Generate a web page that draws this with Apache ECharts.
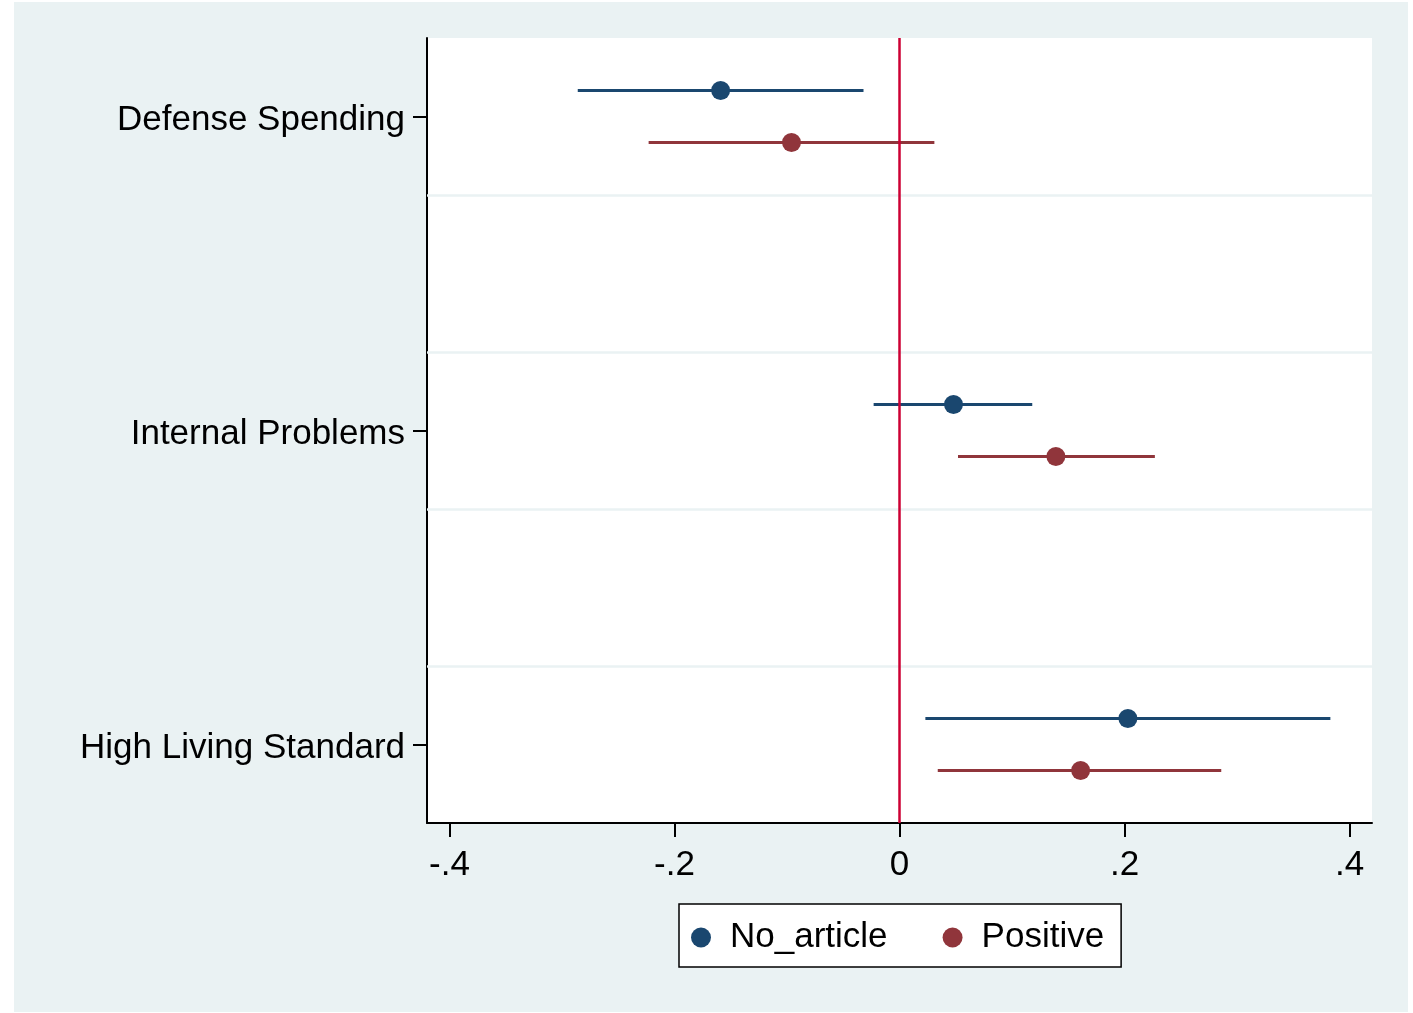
<!DOCTYPE html>
<html>
<head>
<meta charset="utf-8">
<script src="https://cdn.jsdelivr.net/npm/echarts@6/dist/echarts.min.js"></script>
<style>
  html, body { margin: 0; padding: 0; background: #ffffff; }
  #bg { position: absolute; left: 14px; top: 2px; width: 1394px; height: 1010px; background: #EAF2F3; }
  #main { position: absolute; left: 0; top: 0; width: 1413px; height: 1013px; }
</style>
</head>
<body>
<div id="bg"></div>
<div id="main"></div>
<script>
const categories = ['Defense Spending', 'Internal Problems', 'High Living Standard'];
const seriesNames = ['No_article', 'Positive'];
const noArticleEst = [-0.159, 0.048, 0.203];
const noArticleLo  = [-0.286, -0.023, 0.023];
const noArticleHi  = [-0.032, 0.118, 0.383];
const positiveEst  = [-0.096, 0.139, 0.161];
const positiveLo   = [-0.223, 0.052, 0.034];
const positiveHi   = [0.031, 0.227, 0.286];
const xTicks = [-0.4, -0.2, 0, 0.2, 0.4];
const xTickLabels = ['-.4', '-.2', '0', '.2', '.4'];
const refLineX = 0;

const FONT = "'Liberation Sans', Arial, Helvetica, sans-serif";
const NAVY = '#1A476F';
const MAROON = '#90353B';
const OFFSET = 0.083;
const yPos = categories.map((c, i) => i + 1);
const gridYs = [];
for (let i = 0; i < categories.length - 1; i++) {
  gridYs.push(yPos[i] + 0.25, yPos[i] + 0.75);
}

function pointData(est, sign) {
  return est.map((v, i) => [v, yPos[i] + sign * OFFSET]);
}
function barData(lo, hi, sign) {
  return lo.map((v, i) => [v, hi[i], yPos[i] + sign * OFFSET]);
}
function barSeries(name, lo, hi, sign, color) {
  return {
    name: name + ' CI',
    type: 'custom',
    z: 3,
    silent: true,
    data: barData(lo, hi, sign),
    encode: { x: [0, 1], y: 2 },
    renderItem: function (params, api) {
      const p1 = api.coord([api.value(0), api.value(2)]);
      const p2 = api.coord([api.value(1), api.value(2)]);
      return {
        type: 'line',
        shape: { x1: p1[0], y1: p1[1], x2: p2[0], y2: p2[1] },
        style: { stroke: color, lineWidth: 3 }
      };
    }
  };
}

const chart = echarts.init(document.getElementById('main'), null, { renderer: 'canvas' });
chart.setOption({
  backgroundColor: 'transparent',
  animation: false,
  textStyle: { fontFamily: FONT },
  grid: {
    left: 427, right: 41, top: 38, bottom: 190,
    show: true, backgroundColor: '#ffffff', borderWidth: 0
  },
  legend: {
    data: seriesNames,
    left: 679, top: 904,
    orient: 'horizontal',
    backgroundColor: '#ffffff',
    borderColor: '#000000',
    borderWidth: 1.5,
    borderRadius: 0,
    padding: [16, 17, 12, 12],
    itemWidth: 20, itemHeight: 20,
    itemGap: 55,
    icon: 'circle',
    textStyle: { fontFamily: FONT, fontSize: 35, color: '#000', padding: [0, 0, 0, 14] }
  },
  xAxis: {
    type: 'value',
    min: -0.42, max: 0.42,
    axisLine: { show: true, onZero: false, lineStyle: { color: '#000', width: 2 } },
    axisTick: { show: true, length: 14, customValues: xTicks, lineStyle: { color: '#000', width: 2 } },
    axisLabel: {
      customValues: xTicks,
      margin: 25,
      fontFamily: FONT, fontSize: 35, color: '#000',
      formatter: function (v) {
        const i = xTicks.findIndex(t => Math.abs(t - v) < 1e-9);
        return i >= 0 ? xTickLabels[i] : '';
      }
    },
    splitLine: { show: false }
  },
  yAxis: {
    type: 'value',
    min: 0.75, max: 3.25,
    inverse: true,
    axisLine: { show: true, onZero: false, lineStyle: { color: '#000', width: 2 } },
    axisTick: { show: true, length: 14, customValues: yPos, lineStyle: { color: '#000', width: 2 } },
    axisLabel: {
      customValues: yPos,
      margin: 22,
      fontFamily: FONT, fontSize: 35, color: '#000',
      rich: { c: { fontFamily: FONT, fontSize: 35, color: '#000', padding: [7, 0, 0, 0] } },
      formatter: function (v) {
        const i = yPos.findIndex(t => Math.abs(t - v) < 1e-9);
        return i >= 0 ? '{c|' + categories[i] + '}' : '';
      }
    },
    splitLine: { show: false }
  },
  series: [
    {
      name: 'guides',
      type: 'line',
      data: [],
      z: 1,
      silent: true,
      markLine: {
        silent: true,
        symbol: ['none', 'none'],
        label: { show: false },
        animation: false,
        data: gridYs.map(y => ({ yAxis: y, lineStyle: { color: '#EAF2F3', width: 2.5, type: 'solid' } }))
          .concat([{ xAxis: refLineX, lineStyle: { color: '#CC0033', width: 2.5, type: 'solid' } }])
      }
    },
    barSeries(seriesNames[0], noArticleLo, noArticleHi, -1, NAVY),
    barSeries(seriesNames[1], positiveLo, positiveHi, 1, MAROON),
    {
      name: seriesNames[0],
      type: 'scatter',
      z: 4,
      symbol: 'circle',
      symbolSize: 19,
      itemStyle: { color: NAVY, opacity: 1 },
      data: pointData(noArticleEst, -1)
    },
    {
      name: seriesNames[1],
      type: 'scatter',
      z: 4,
      symbol: 'circle',
      symbolSize: 19,
      itemStyle: { color: MAROON, opacity: 1 },
      data: pointData(positiveEst, 1)
    }
  ]
});
</script>
</body>
</html>
